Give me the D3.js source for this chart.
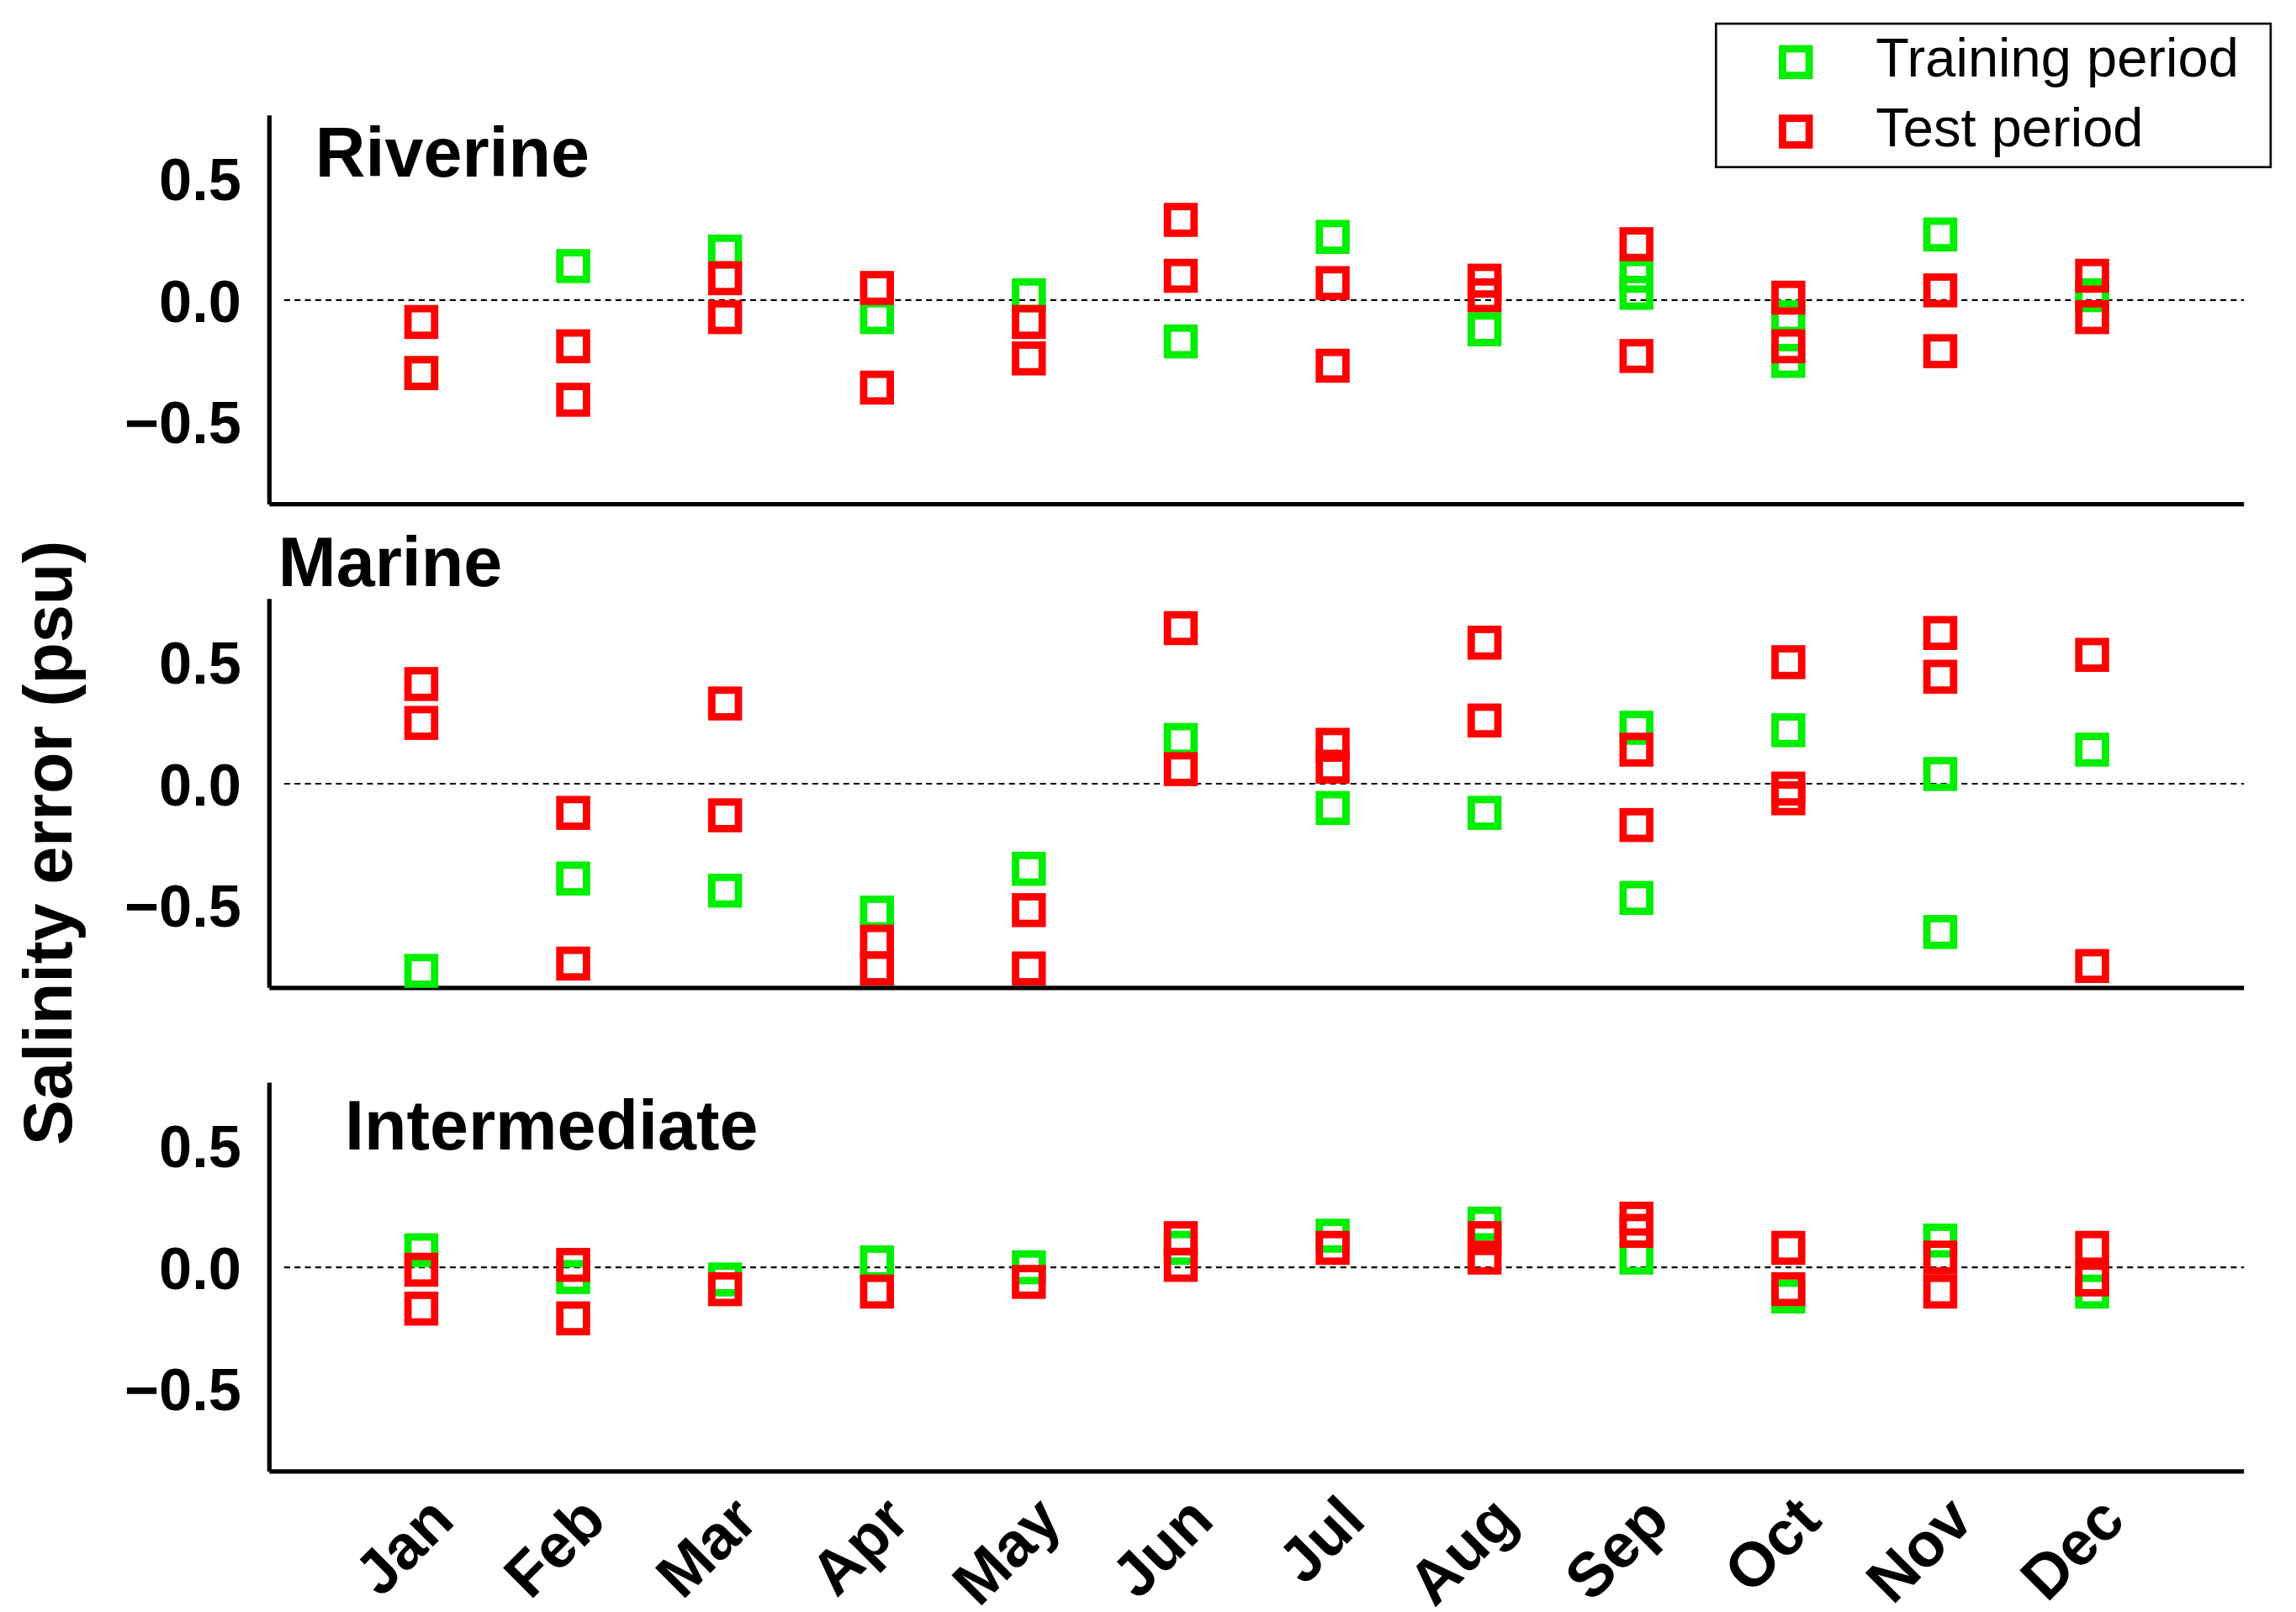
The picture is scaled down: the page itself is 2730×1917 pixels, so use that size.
<!DOCTYPE html>
<html><head><meta charset="utf-8">
<script src="https://cdn.jsdelivr.net/npm/d3@7"></script>
<style>body{margin:0;background:#fff}</style>
</head><body>
<script>
const months = ["Jan","Feb","Mar","Apr","May","Jun","Jul","Aug","Sep","Oct","Nov","Dec"];
const panels = ["Riverine", "Marine", "Intermediate"];
const yTicks = [-0.5, 0.0, 0.5];

// [month, value] pairs per panel
const riverineTrain = [["Jan",-0.30],["Feb",0.14],["Mar",0.20],["Apr",-0.07],["May",0.02],["Jun",-0.17],["Jul",0.26],["Aug",-0.12],["Sep",0.10],["Sep",0.03],["Oct",-0.25],["Oct",-0.07],["Nov",0.27],["Dec",0.02]];
const riverineTest = [["Jan",-0.09],["Jan",-0.30],["Feb",-0.19],["Feb",-0.41],["Mar",0.09],["Mar",-0.07],["Apr",0.05],["Apr",-0.36],["May",-0.09],["May",-0.24],["Jun",0.33],["Jun",0.10],["Jul",0.07],["Jul",-0.27],["Aug",0.08],["Aug",0.02],["Sep",0.23],["Sep",-0.23],["Oct",0.01],["Oct",-0.19],["Nov",0.04],["Nov",-0.21],["Dec",0.10],["Dec",-0.07]];
const marineTrain = [["Jan",-0.77],["Feb",-0.39],["Mar",-0.44],["Apr",-0.53],["May",-0.35],["Jun",0.18],["Jul",-0.10],["Aug",-0.12],["Sep",0.23],["Sep",-0.47],["Oct",0.22],["Nov",0.04],["Nov",-0.61],["Dec",0.14]];
const marineTest = [["Jan",0.41],["Jan",0.25],["Feb",-0.12],["Feb",-0.74],["Mar",0.33],["Mar",-0.13],["Apr",-0.65],["Apr",-0.76],["May",-0.52],["May",-0.76],["Jun",0.64],["Jun",0.06],["Jul",0.16],["Jul",0.07],["Aug",0.58],["Aug",0.26],["Sep",0.14],["Sep",-0.17],["Oct",0.50],["Oct",-0.02],["Oct",-0.06],["Nov",0.62],["Nov",0.44],["Dec",0.53],["Dec",-0.75]];
const interTrain = [["Jan",0.07],["Feb",-0.04],["Mar",-0.05],["Apr",0.02],["May",0.00],["Jun",0.08],["Jul",0.13],["Aug",0.18],["Sep",0.04],["Oct",-0.12],["Nov",0.11],["Dec",-0.10]];
const interTest = [["Jan",-0.01],["Jan",-0.17],["Feb",0.01],["Feb",-0.21],["Mar",-0.09],["Apr",-0.10],["May",-0.06],["Jun",0.12],["Jun",0.01],["Jul",0.08],["Aug",0.12],["Aug",0.04],["Sep",0.20],["Sep",0.15],["Oct",0.08],["Oct",-0.09],["Nov",0.04],["Nov",-0.10],["Dec",0.08],["Dec",-0.05]];

const trainData = [riverineTrain, marineTrain, interTrain];
const testData = [riverineTest, marineTest, interTest];

const svg = d3.select("body").append("svg")
  .attr("width", 2730).attr("height", 1917)
  .attr("viewBox", "0 0 1552 1090");

const left = 182, right = 1517;
const x = d3.scalePoint().domain(["", ...months, " "]).range([left, right]);
const tops = [78, 405, 732];
const panelH = 263;
const titlePos = [[213,107],[188,384],[233,765]];
const green = "#00ee00", red = "#ff0000";
const font = "Liberation Sans, Arial, sans-serif";

panels.forEach((name, i) => {
  const y = d3.scaleLinear().domain([-0.84, 0.76]).range([tops[i] + panelH, tops[i]]);
  const g = svg.append("g");
  g.append("line").attr("x1", left).attr("x2", left).attr("y1", tops[i]).attr("y2", tops[i] + panelH)
    .attr("stroke", "#000").attr("stroke-width", 3);
  g.append("line").attr("x1", left).attr("x2", right).attr("y1", tops[i] + panelH).attr("y2", tops[i] + panelH)
    .attr("stroke", "#000").attr("stroke-width", 3);
  g.append("line").attr("x1", left + 10).attr("x2", right).attr("y1", y(0)).attr("y2", y(0))
    .attr("stroke", "#000").attr("stroke-width", 1.2).attr("stroke-dasharray", "4,3");
  g.selectAll(".tick").data(yTicks).join("text")
    .attr("x", 163).attr("y", d => y(d) + 4)
    .attr("text-anchor", "end").attr("dominant-baseline", "middle")
    .attr("font-family", font).attr("font-weight", "bold").attr("font-size", 40)
    .text(d => d < 0 ? "\u2212" + Math.abs(d).toFixed(1) : d.toFixed(1));
  g.append("text").attr("x", titlePos[i][0]).attr("y", titlePos[i][1])
    .attr("dominant-baseline", "middle")
    .attr("font-family", font).attr("font-weight", "bold").attr("font-size", 47).text(name);

  [[trainData[i], green], [testData[i], red]].forEach(([data, col]) => {
    g.selectAll(null).data(data).join("rect")
      .attr("x", d => x(d[0]) - 9).attr("y", d => y(d[1]) - 9)
      .attr("width", 18).attr("height", 18)
      .attr("fill", "none").attr("stroke", col).attr("stroke-width", 5);
  });
});

// month labels
svg.selectAll(".mon").data(months).join("text")
  .attr("transform", d => `translate(${x(d) + 16},${1022}) rotate(-45)`)
  .attr("text-anchor", "end").attr("dominant-baseline", "middle")
  .attr("font-family", font).attr("font-weight", "bold").attr("font-size", 42)
  .text(d => d);

// y label
svg.append("text").attr("transform", "translate(36,570) rotate(-90)")
  .attr("text-anchor", "middle").attr("dominant-baseline", "middle")
  .attr("font-family", font).attr("font-weight", "bold").attr("font-size", 46)
  .text("Salinity error (psu)");

// legend
const lg = svg.append("g");
lg.append("rect").attr("x", 1160).attr("y", 16).attr("width", 375).attr("height", 97)
  .attr("fill", "#fff").attr("stroke", "#000").attr("stroke-width", 1.5);
[["Training period", green, 42], ["Test period", red, 89]].forEach(([t, c, yy]) => {
  lg.append("rect").attr("x", 1205).attr("y", yy - 9).attr("width", 18).attr("height", 18)
    .attr("fill", "none").attr("stroke", c).attr("stroke-width", 5);
  lg.append("text").attr("x", 1268).attr("y", yy).attr("dominant-baseline", "middle")
    .attr("font-family", font).attr("font-size", 37).text(t);
});
</script>
</body></html>
